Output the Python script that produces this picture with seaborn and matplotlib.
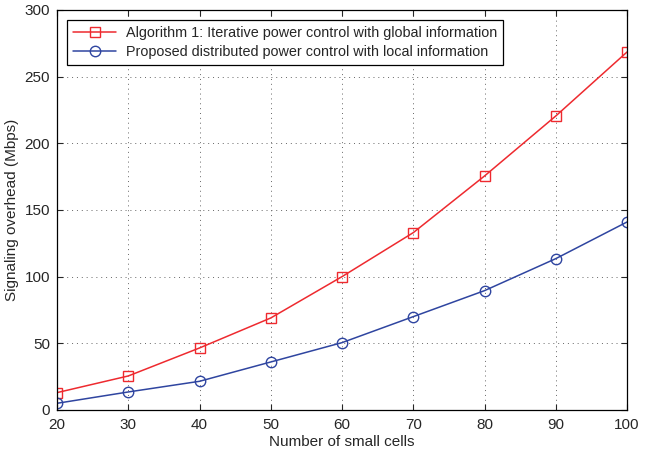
import numpy as np
import pandas as pd
import matplotlib
matplotlib.use('Agg')
import matplotlib.pyplot as plt
import seaborn as sns

# data
cells = [20, 30, 40, 50, 60, 70, 80, 90, 100]
global_info = [13, 25.5, 46.5, 69, 100, 133, 175.5, 220.5, 268.5]
local_info = [5, 13.5, 21.5, 36, 50.5, 70, 89.5, 113.5, 141]

label_global = 'Algorithm 1: Iterative power control with global information'
label_local = 'Proposed distributed power control with local information'

df = pd.DataFrame({
    'cells': cells * 2,
    'overhead': global_info + local_info,
    'scheme': [label_global] * len(cells) + [label_local] * len(cells),
})

sns.set_style('ticks')
plt.rcParams['font.family'] = ['Liberation Sans', 'DejaVu Sans']

fig = plt.figure(figsize=(6.5, 4.53), dpi=100)
ax = fig.add_axes([0.0877, 0.095, 0.877, 0.883])

sns.lineplot(data=df, x='cells', y='overhead', hue='scheme', style='scheme',
             palette=['#ee2a2f', '#2f45a0'], markers=['s', 'o'], dashes=False,
             markersize=7.5, markerfacecolor='none', markeredgewidth=1.0,
             linewidth=1.1, ax=ax)
# open markers: edge colour follows the line colour
for line in ax.get_lines():
    line.set_markeredgecolor(line.get_color())
    line.set_markerfacecolor('none')

ax.set_xlim(20, 100)
ax.set_ylim(0, 300)
ax.set_xticks(range(20, 101, 10))
ax.set_yticks(range(0, 301, 50))
ax.grid(True, linestyle=(0, (1, 4)), color='#666666', linewidth=0.7)
ax.tick_params(direction='in', top=True, right=True, labelsize=11, length=4)
ax.tick_params(axis='x', pad=6)
ax.tick_params(axis='y', pad=5)
for s in ax.spines.values():
    s.set_linewidth(0.9)
    s.set_color('black')
ax.set_xlabel('Number of small cells', fontsize=11, labelpad=2)
ax.set_ylabel('Signaling overhead (Mbps)', fontsize=11)

handles, labels = ax.get_legend_handles_labels()
for h in handles:
    h.set_markeredgecolor(h.get_color())
    h.set_markerfacecolor('none')
leg = ax.legend(handles, labels, loc='upper left', fontsize=10.4, frameon=True,
                fancybox=False, edgecolor='black', framealpha=1,
                borderaxespad=0.7, handlelength=3.0, labelspacing=0.35,
                handletextpad=0.7)
leg.get_frame().set_linewidth(0.9)

fig.savefig('out.png', dpi=100)
